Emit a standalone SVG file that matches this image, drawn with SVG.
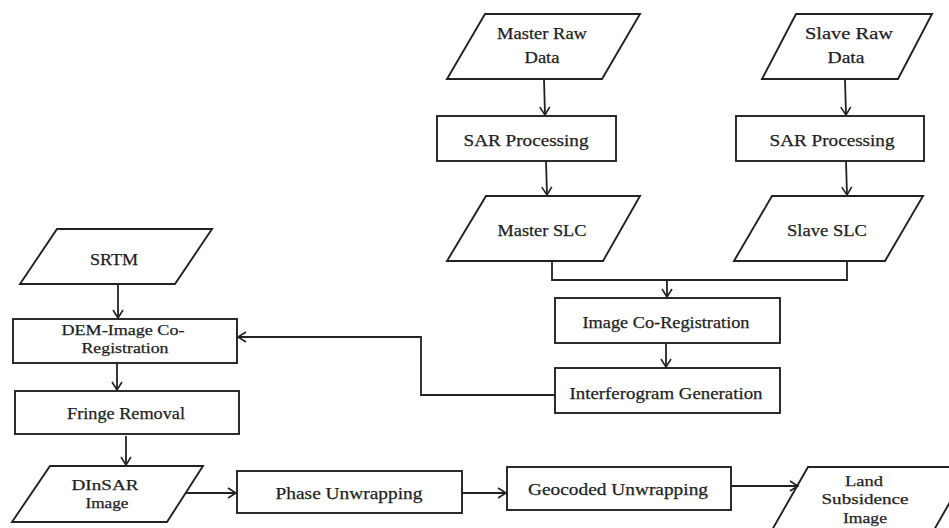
<svg xmlns="http://www.w3.org/2000/svg" width="949" height="528" viewBox="0 0 949 528">
  <defs>
    <marker id="arrow" viewBox="-10 -6 12 12" refX="0" refY="0" markerWidth="12" markerHeight="12" markerUnits="userSpaceOnUse" orient="auto">
      <path d="M-8,-5 L0,0 L-8,5" fill="none" stroke="#222" stroke-width="1.6"/>
    </marker>
  </defs>
  <style>
    .shape { fill: #fff; stroke: #222; stroke-width: 1.9; }
    .edge { fill: none; stroke: #222; stroke-width: 1.8; marker-end: url(#arrow); }
    .line { fill: none; stroke: #222; stroke-width: 1.8; }
    text { font-family: "Liberation Serif", "Times New Roman", serif; font-size: 17.5px; fill: #1e1e1e; stroke: #1e1e1e; stroke-width: 0.25; text-anchor: middle; dominant-baseline: central; }
    text.multi { font-size: 15.5px; }
  </style>
  <rect width="949" height="528" fill="#fff"/>

  <!-- Master branch -->
  <g id="master-raw">
    <polygon class="shape" points="485,14 640,14 602,79 447,79"/>
    <text x="542" y="33" textLength="90" lengthAdjust="spacingAndGlyphs">Master Raw</text>
    <text x="542" y="57" textLength="35" lengthAdjust="spacingAndGlyphs">Data</text>
  </g>
  <g id="master-sar">
    <rect class="shape" x="437" y="116" width="179" height="45"/>
    <text x="526" y="140" textLength="125" lengthAdjust="spacingAndGlyphs">SAR Processing</text>
  </g>
  <g id="master-slc">
    <polygon class="shape" points="486,196 640,196 603,261 447,261"/>
    <text x="542" y="230" textLength="89" lengthAdjust="spacingAndGlyphs">Master SLC</text>
  </g>

  <!-- Slave branch -->
  <g id="slave-raw">
    <polygon class="shape" points="796,14 932,14 898,79 762,79"/>
    <text x="849" y="33" textLength="88" lengthAdjust="spacingAndGlyphs">Slave Raw</text>
    <text x="846" y="57" textLength="37" lengthAdjust="spacingAndGlyphs">Data</text>
  </g>
  <g id="slave-sar">
    <rect class="shape" x="736" y="116" width="188" height="45"/>
    <text x="832" y="140" textLength="125" lengthAdjust="spacingAndGlyphs">SAR Processing</text>
  </g>
  <g id="slave-slc">
    <polygon class="shape" points="772,196 923,196 885,261 734,261"/>
    <text x="827" y="230" textLength="80" lengthAdjust="spacingAndGlyphs">Slave SLC</text>
  </g>

  <!-- Interferometric core -->
  <g id="coregistration">
    <rect class="shape" x="555" y="298" width="225" height="45"/>
    <text x="666" y="322" textLength="167" lengthAdjust="spacingAndGlyphs">Image Co-Registration</text>
  </g>
  <g id="interferogram">
    <rect class="shape" x="555" y="368" width="225" height="45"/>
    <text x="666" y="393" textLength="193" lengthAdjust="spacingAndGlyphs">Interferogram Generation</text>
  </g>

  <!-- DEM branch -->
  <g id="srtm">
    <polygon class="shape" points="57,229 212,229 175,284 20,284"/>
    <text x="114" y="259" textLength="48" lengthAdjust="spacingAndGlyphs">SRTM</text>
  </g>
  <g id="dem-coregistration">
    <rect class="shape" x="13" y="319" width="224" height="44"/>
    <text class="multi" x="123" y="329" textLength="123" lengthAdjust="spacingAndGlyphs">DEM-Image Co-</text>
    <text class="multi" x="125" y="347" textLength="87" lengthAdjust="spacingAndGlyphs">Registration</text>
  </g>
  <g id="fringe-removal">
    <rect class="shape" x="15" y="391" width="224" height="43"/>
    <text x="126" y="413" textLength="118" lengthAdjust="spacingAndGlyphs">Fringe Removal</text>
  </g>
  <g id="dinsar">
    <polygon class="shape" points="50,466 203,466 167,522 12,522"/>
    <text class="multi" x="105" y="484" textLength="67" lengthAdjust="spacingAndGlyphs">DInSAR</text>
    <text class="multi" x="107" y="502" textLength="43" lengthAdjust="spacingAndGlyphs">Image</text>
  </g>

  <!-- Output chain -->
  <g id="phase-unwrapping">
    <rect class="shape" x="237" y="471" width="225" height="42"/>
    <text x="349" y="493" textLength="147" lengthAdjust="spacingAndGlyphs">Phase Unwrapping</text>
  </g>
  <g id="geocoded-unwrapping">
    <rect class="shape" x="507" y="467" width="224" height="43"/>
    <text x="618" y="489" textLength="180" lengthAdjust="spacingAndGlyphs">Geocoded Unwrapping</text>
  </g>
  <g id="land-subsidence">
    <polygon class="shape" points="808,467 970,467 930,537 768,537"/>
    <text class="multi" x="864" y="480" textLength="38" lengthAdjust="spacingAndGlyphs">Land</text>
    <text class="multi" x="865" y="498" textLength="87" lengthAdjust="spacingAndGlyphs">Subsidence</text>
    <text class="multi" x="865" y="517" textLength="44" lengthAdjust="spacingAndGlyphs">Image</text>
  </g>

  <!-- Connectors -->
  <g id="connectors">
    <path class="edge" d="M544,79 L545,115"/>
    <path class="edge" d="M546,161 L547,195"/>
    <path class="edge" d="M845,79 L846,115"/>
    <path class="edge" d="M846,161 L847,195"/>
    <path class="line" d="M552,261 V280 H847 V261"/>
    <path class="edge" d="M667,280 V297"/>
    <path class="edge" d="M666,343 V367"/>
    <path class="edge" d="M555,395 H421 V337 H238"/>
    <path class="edge" d="M118,284 V318"/>
    <path class="edge" d="M117,363 V390"/>
    <path class="edge" d="M126,436 V465"/>
    <path class="edge" d="M186,493 H236"/>
    <path class="edge" d="M462,493 H506"/>
    <path class="edge" d="M731,486 H798"/>
  </g>
</svg>
